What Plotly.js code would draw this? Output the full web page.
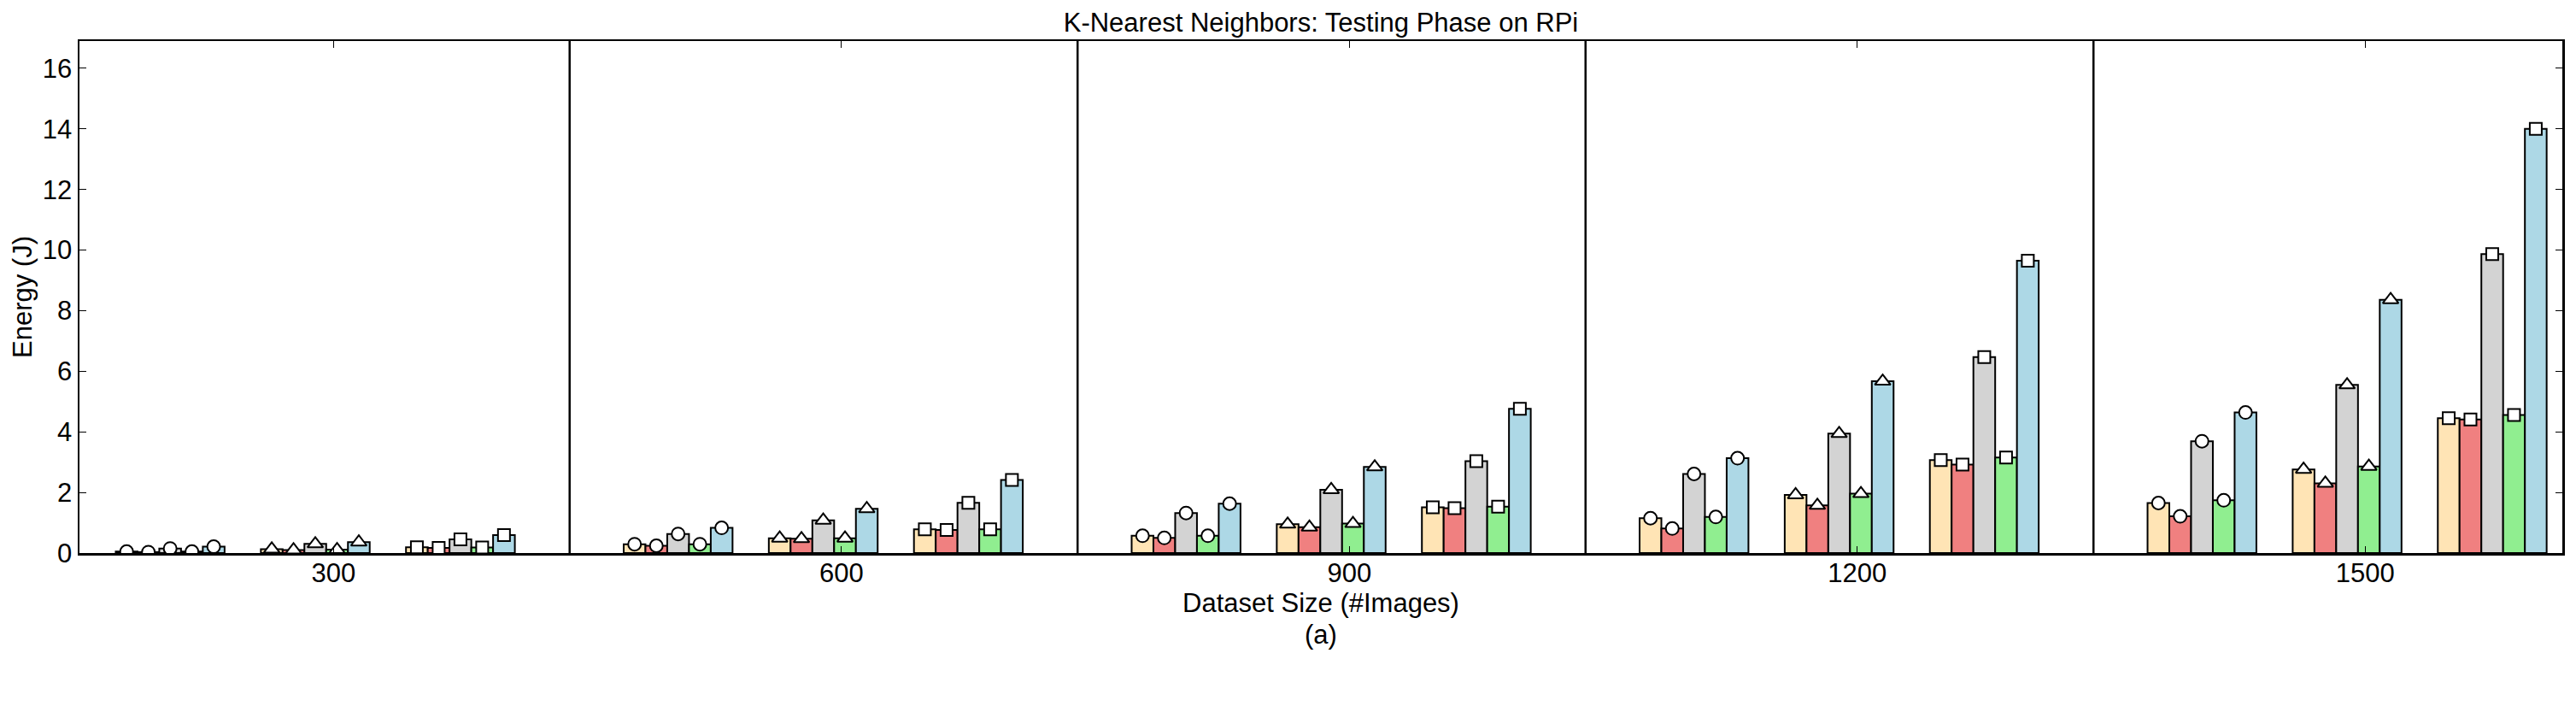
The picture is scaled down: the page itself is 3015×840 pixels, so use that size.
<!DOCTYPE html>
<html>
<head>
<meta charset="utf-8">
<script src="https://cdn.plot.ly/plotly-3.0.1.min.js"></script>
<style>html,body{margin:0;padding:0;background:#fff;}</style>
</head>
<body>
<div id="chart" style="width:3015px;height:840px;"></div>
<script>
// Dataset sizes (x categories)
const sizes = ['300', '600', '900', '1200', '1500'];

// Circle subgroup (values per dataset size)
const circOrange = [0.05, 0.29, 0.57, 1.15, 1.65];
const circRed    = [0.03, 0.24, 0.50, 0.81, 1.21];
const circGray   = [0.15, 0.63, 1.32, 2.61, 3.69];
const circGreen  = [0.05, 0.29, 0.57, 1.19, 1.74];
const circBlue   = [0.21, 0.83, 1.63, 3.13, 4.64];

// Triangle subgroup
const triOrange = [0.13, 0.49, 0.95, 1.92, 2.76];
const triRed    = [0.10, 0.47, 0.85, 1.57, 2.30];
const triGray   = [0.30, 1.08, 2.09, 3.94, 5.55];
const triGreen  = [0.11, 0.49, 0.97, 1.96, 2.86];
const triBlue   = [0.36, 1.46, 2.84, 5.67, 8.36];

// Square subgroup
const sqOrange = [0.19, 0.78, 1.51, 3.07, 4.45];
const sqRed    = [0.17, 0.76, 1.48, 2.92, 4.41];
const sqGray   = [0.45, 1.66, 3.03, 6.47, 9.87];
const sqGreen  = [0.18, 0.78, 1.53, 3.15, 4.56];
const sqBlue   = [0.59, 2.41, 4.76, 9.65, 14.00];

const barColors = ['#FFE4B5', '#F08080', '#D3D3D3', '#90EE90', '#ADD8E6'];
const subgroups = [
  {symbol: 'circle', size: 15, series: [circOrange, circRed, circGray, circGreen, circBlue]},
  {symbol: 'triangle-up', size: 16, series: [triOrange, triRed, triGray, triGreen, triBlue]},
  {symbol: 'square', size: 14, series: [sqOrange, sqRed, sqGray, sqGreen, sqBlue]}
];

const barW = 0.3 / 7;
const subStart = -3 / 7;
const subStep = 2 / 7;

function xpos(i, s, b) { return i + subStart + s * subStep + b * barW + barW / 2; }

const traces = [];
// bars: one trace per colour per subgroup
subgroups.forEach((sg, s) => {
  sg.series.forEach((vals, b) => {
    traces.push({
      type: 'bar',
      x: sizes.map((_, i) => xpos(i, s, b)),
      y: vals,
      width: barW,
      marker: {color: barColors[b], line: {color: '#000', width: 2}},
      showlegend: false,
      hoverinfo: 'y'
    });
  });
});
// markers on top of bars
subgroups.forEach((sg, s) => {
  const xs = [], ys = [];
  sg.series.forEach((vals, b) => {
    vals.forEach((v, i) => { xs.push(xpos(i, s, b)); ys.push(v); });
  });
  traces.push({
    type: 'scatter', mode: 'markers', x: xs, y: ys,
    marker: {symbol: sg.symbol, size: sg.size, color: '#fff', line: {color: '#000', width: 2}},
    showlegend: false, hoverinfo: 'y', cliponaxis: true
  });
});

// vertical separators between dataset-size groups
const shapes = sizes.slice(0, -1).map((_, i) => ({
  type: 'line', xref: 'x', yref: 'paper', x0: i + 0.465, x1: i + 0.465, y0: 0, y1: 1,
  line: {color: '#000', width: 2.5}
}));

const font = {family: 'Liberation Sans, Arial, sans-serif', size: 31, color: '#000'};

const layout = {
  width: 3015, height: 840,
  margin: {l: 93, r: 16, t: 48, b: 193},
  paper_bgcolor: '#fff', plot_bgcolor: '#fff',
  font: font,
  barmode: 'overlay',
  title: {text: 'K-Nearest Neighbors: Testing Phase on RPi', font: font,
          x: 0.5, xref: 'paper', xanchor: 'center', y: 1 - 26 / 840, yref: 'container', yanchor: 'middle'},
  xaxis: {
    range: [-0.5, 4.388], tickmode: 'array', tickvals: sizes.map((_, i) => i), ticktext: sizes,
    showgrid: false, zeroline: false, showline: true, linecolor: '#000', linewidth: 2.5, mirror: 'ticks',
    ticks: 'inside', ticklen: 8, tickwidth: 1, tickcolor: '#000', tickfont: font, ticklabelstandoff: -6,
    title: {text: 'Dataset Size (#Images)', font: font, standoff: 6}
  },
  yaxis: {
    range: [0, 16.9], tickvals: [0, 2, 4, 6, 8, 10, 12, 14, 16],
    showgrid: false, zeroline: false, showline: true, linecolor: '#000', linewidth: 2.5, mirror: 'ticks',
    ticks: 'inside', ticklen: 8, tickwidth: 1, tickcolor: '#000', tickfont: font,
    title: {text: 'Energy (J)', font: font, standoff: 3}
  },
  shapes: shapes,
  annotations: [{text: '(a)', xref: 'paper', yref: 'paper', x: 0.5, y: -(742 - 647) / 599,
                 xanchor: 'center', yanchor: 'middle', showarrow: false, font: font}]
};

Plotly.newPlot('chart', traces, layout, {displayModeBar: false, staticPlot: true});
</script>
</body>
</html>
